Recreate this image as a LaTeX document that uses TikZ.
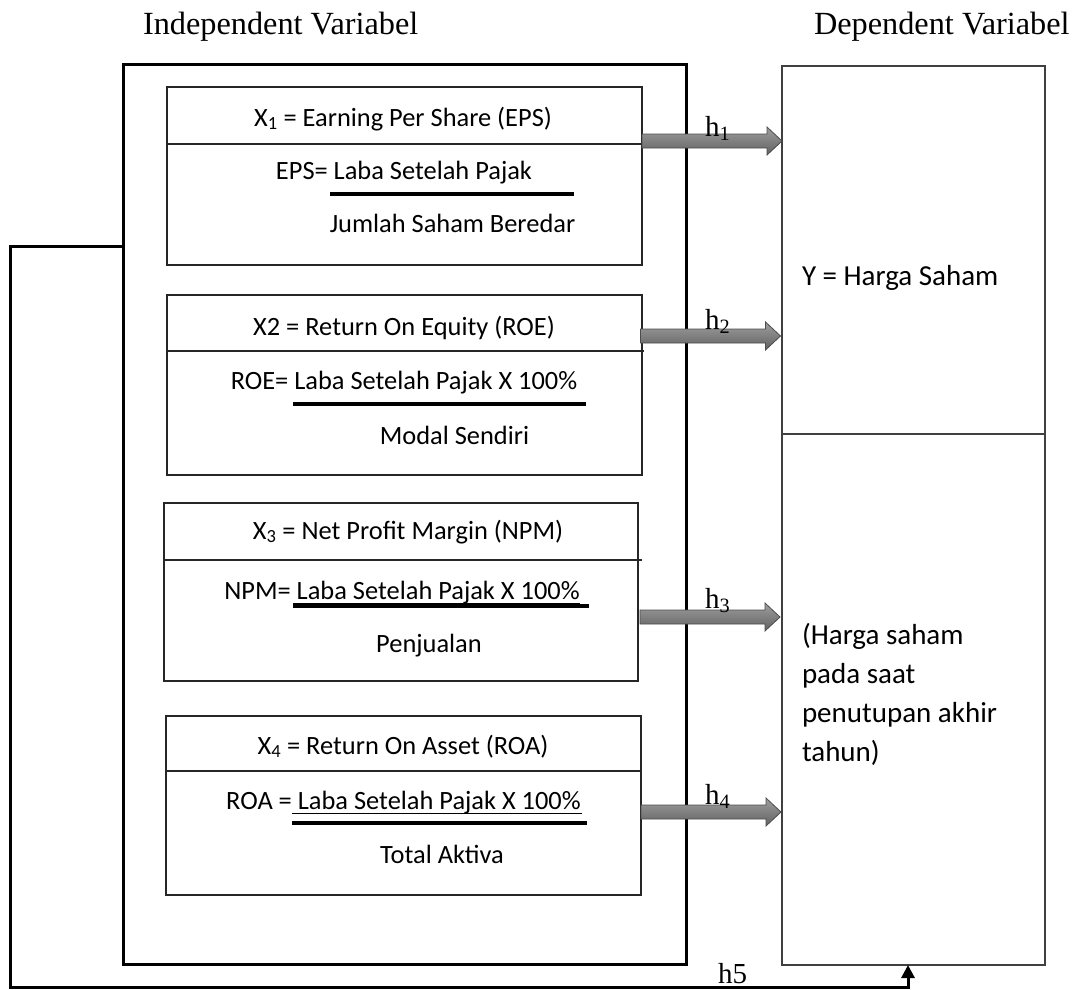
\documentclass[tikz,border=0pt]{standalone}
\usepackage{fontspec}
\setmainfont{Carlito}
\newfontfamily\timesfont{Liberation Serif}
\usetikzlibrary{arrows.meta}
\begin{document}
\begin{tikzpicture}[x=1pt,y=-1pt,
  every node/.style={inner sep=0pt, outer sep=0pt},
  outerbox/.style={draw=black, line width=3pt, anchor=north west},
  ybox/.style={draw=black!75, line width=1.3pt, anchor=north west},
  inbox/.style={draw=black!85, line width=1.2pt, anchor=north west},
  divline/.style={draw=black!85, line width=1.2pt},
  fracline/.style={line width=3.5pt},
  uline/.style={line width=1pt},
  boxtxt/.style={anchor=base, font=\fontsize{26.4}{30}\selectfont},
  ytxt/.style={anchor=base west, font=\fontsize{29}{34}\selectfont},
  titletxt/.style={anchor=base west, font=\timesfont\fontsize{32.3}{36}\selectfont},
  hlab/.style={anchor=base west, font=\timesfont\fontsize{29}{32}\selectfont},
  arrowfill/.style={top color=black!38, bottom color=black!62, draw=black!70, line width=0.8pt},
  feedback/.style={line width=3pt, -{Triangle[width=13pt,length=13pt]}},
  blockarrow/.pic={\path[arrowfill] (0,-7)--(125,-7)--(125,-14)--(140,0)--(125,14)--(125,7)--(0,7)--cycle;}
]
\useasboundingbox (0,0) rectangle (1077,990);

% titles
\node[titletxt] (indT) at (143,35) {Independent Variabel};
\node[titletxt] (depT) at (814,35) {Dependent Variabel};

% main boxes
\node[outerbox, minimum width=563pt, minimum height=899pt] (indep) at (123,65) {};
\node[ybox, minimum width=263pt, minimum height=899pt] (ybox) at (782,66) {};
\draw[divline, draw=black!75, line width=1.3pt] (782,434) -- (1045,434);

% box 1
\node[inbox, minimum width=475pt, minimum height=178pt] (b1) at (167,87) {};
\draw[divline] (167,144) -- (642,144);
\node[boxtxt] (t1a) at (403,126) {X\textsubscript{1} = Earning Per Share (EPS)};
\node[boxtxt] (t1b) at (404,179) {EPS= Laba Setelah Pajak};
\draw[fracline] (330,194) -- (574,194);
\node[boxtxt] (t1c) at (452.5,232) {Jumlah Saham Beredar};

% box 2
\node[inbox, minimum width=475pt, minimum height=180pt] (b2) at (167,295) {};
\draw[divline] (167,351) -- (644,351);
\node[boxtxt] (t2a) at (404,335) {X2 = Return On Equity (ROE)};
\node[boxtxt] (t2b) at (404,389) {ROE= Laba Setelah Pajak X 100\%};
\draw[fracline] (293,404) -- (586,404);
\node[boxtxt] (t2c) at (454.5,444) {Modal Sendiri};

% box 3
\node[inbox, minimum width=474pt, minimum height=178pt] (b3) at (164,503) {};
\draw[divline] (164,560) -- (642,560);
\node[boxtxt] (t3a) at (408,539) {X\textsubscript{3} = Net Profit Margin (NPM)};
\node[boxtxt] (t3b) at (402,599) {NPM= Laba Setelah Pajak X 100\%};
\draw[uline] (293,603) -- (580,603);
\draw[fracline] (293,606) -- (589,606);
\node[boxtxt] (t3c) at (429,652) {Penjualan};

% box 4
\node[inbox, minimum width=475pt, minimum height=179pt] (b4) at (166,716) {};
\draw[divline] (166,771) -- (641,771);
\node[boxtxt] (t4a) at (403,754) {X\textsubscript{4} = Return On Asset (ROA)};
\node[boxtxt] (t4b) at (403.5,809) {ROA = Laba Setelah Pajak X 100\%};
\draw[uline] (292,813) -- (582,813);
\draw[fracline] (292,823) -- (587,823);
\node[boxtxt] (t4c) at (442,863) {Total Aktiva};

% dependent texts
\node[ytxt] (y1) at (802,285) {Y = Harga Saham};
\node[ytxt] (y2) at (802,644) {(Harga saham};
\node[ytxt] (y3) at (802,683) {pada saat};
\node[ytxt] (y4) at (802,722) {penutupan akhir};
\node[ytxt] (y5) at (802,761) {tahun)};

% block arrows
\coordinate (a1s) at (642,141);
\coordinate (a2s) at (640.5,336);
\coordinate (a3s) at (640,617);
\coordinate (a4s) at (641,812);
\pic at (a1s) {blockarrow};
\pic at (a2s) {blockarrow};
\pic at (a3s) {blockarrow};
\pic at (a4s) {blockarrow};

% labels
\node[hlab] (h1) at (705,136) {h\textsubscript{1}};
\node[hlab] (h2) at (705,329) {h\textsubscript{2}};
\node[hlab] (h3) at (705,608) {h\textsubscript{3}};
\node[hlab] (h4) at (705,804) {h\textsubscript{4}};
\node[hlab] (h5) at (718,983) {h5};

% feedback connector
\coordinate (fbA) at (10,246);
\coordinate (fbB) at (10,987);
\coordinate (fbC) at (908,987);
\draw[feedback] (indep.west |- fbA) -- (fbA) -- (fbB) -- (fbC) -- (ybox.south -| fbC);
\end{tikzpicture}
\end{document}
